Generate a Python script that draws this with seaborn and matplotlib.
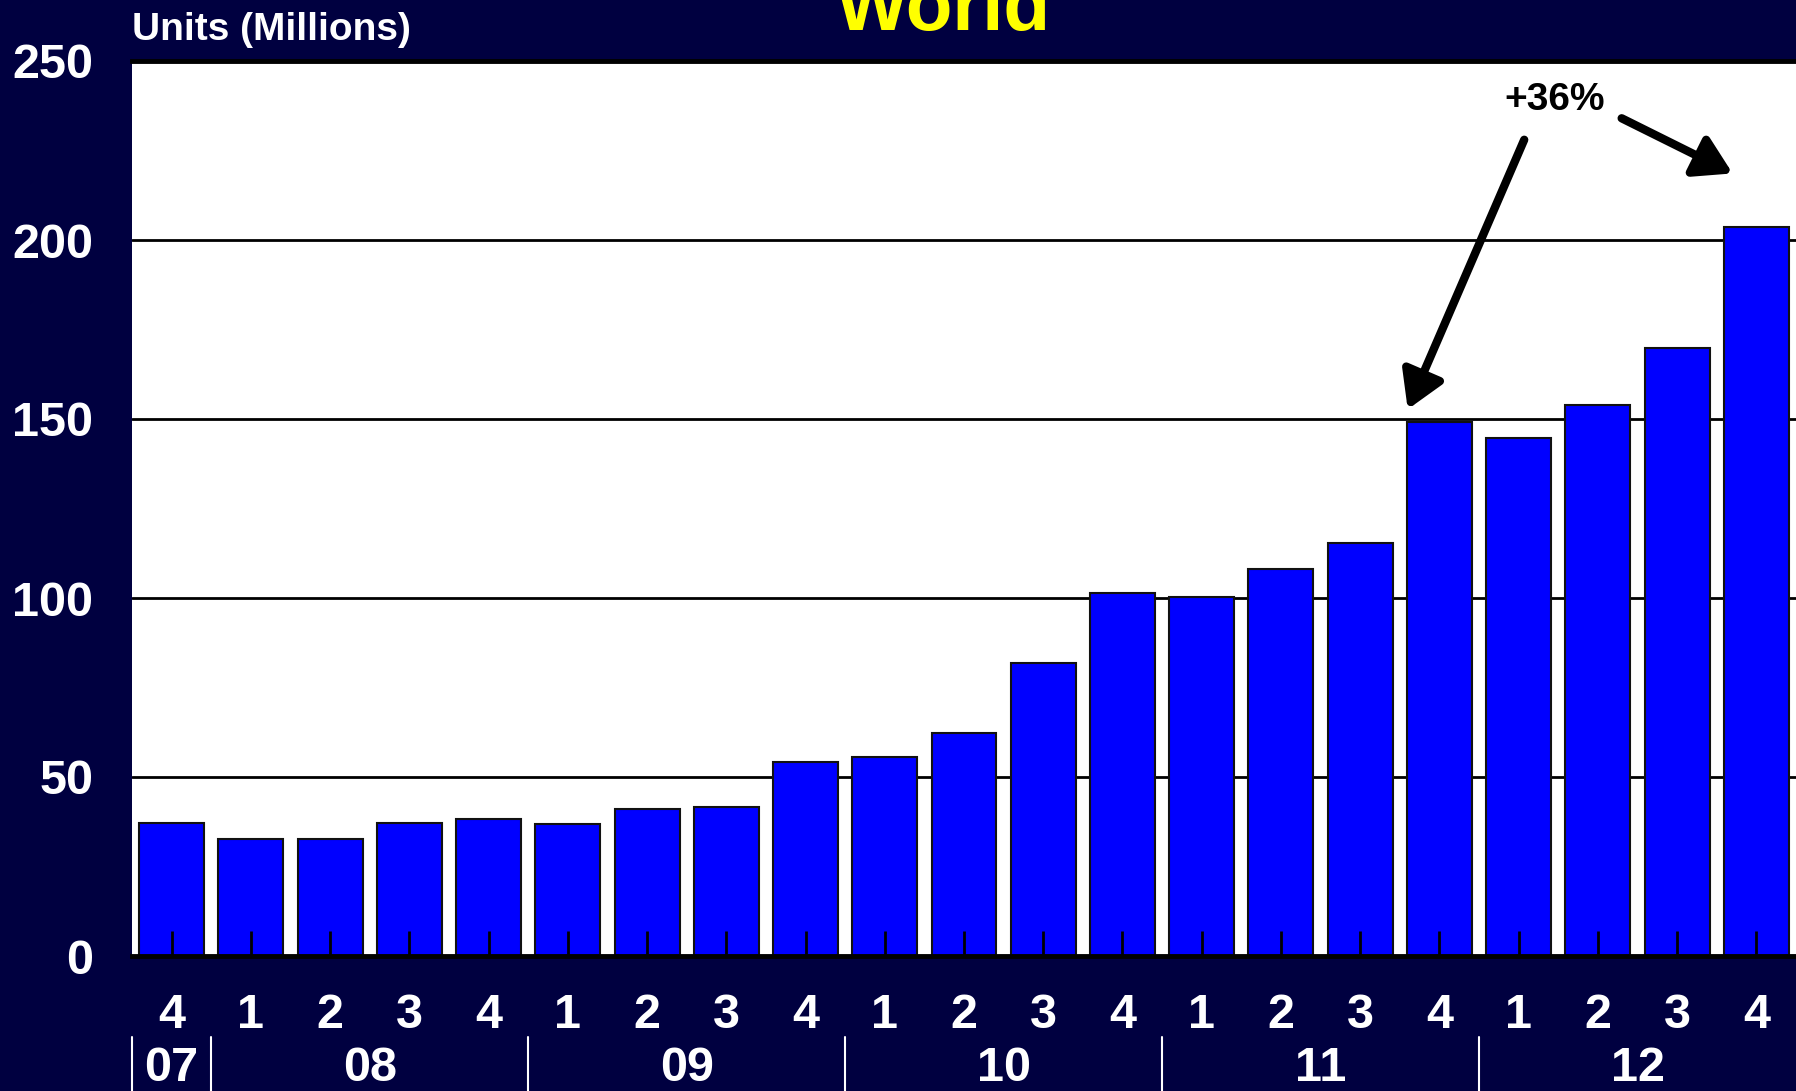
import numpy as np
import pandas as pd
import matplotlib
matplotlib.use("Agg")
import matplotlib.pyplot as plt
import seaborn as sns

# --- data ---
years = ['07', '08', '08', '08', '08', '09', '09', '09', '09', '10', '10', '10', '10',
         '11', '11', '11', '11', '12', '12', '12', '12']
quarters = ['4', '1', '2', '3', '4', '1', '2', '3', '4', '1', '2', '3', '4',
            '1', '2', '3', '4', '1', '2', '3', '4']
units = [37.1, 32.6, 32.6, 37.1, 38.4, 36.8, 41.2, 41.6, 54.3, 55.6, 62.3, 81.8,
         101.3, 100.4, 108.1, 115.4, 149.2, 144.8, 154.0, 169.7, 203.6]
yticks = [0, 50, 100, 150, 200, 250]

NAVY = '#000040'
BLUE = '#0000ff'

df = pd.DataFrame({'year': years, 'quarter': quarters, 'units': units})
df['period'] = df['year'] + 'Q' + df['quarter']

sns.set_style('white')
plt.rcParams['font.family'] = ['Liberation Sans', 'DejaVu Sans']
plt.rcParams['font.weight'] = 'bold'

fig = plt.figure(figsize=(17.96, 10.91), dpi=100, facecolor=NAVY)
ax = fig.add_axes([132 / 1796, 135 / 1091, 1 - 132 / 1796, 895 / 1091])
ax.set_facecolor('white')

# gridlines behind the bars, ticks stay on top
for t in yticks[1:-1]:
    ax.axhline(t, color='black', lw=2, zorder=0.5)

sns.barplot(data=df, x='period', y='units', color=BLUE, saturation=1,
            edgecolor='#111111', linewidth=1.5, width=0.82, ax=ax, zorder=1)

ax.set_xlim(-0.5, len(df) - 0.5)
ax.set_ylim(0, 250)
ax.set_yticks(yticks)
ax.set_yticklabels([str(t) for t in yticks], color='white', fontsize=35, fontweight='bold')
ax.tick_params(axis='y', left=False, length=0, pad=28)

ax.set_xticks(range(len(df)))
ax.set_xticklabels(df['quarter'], color='white', fontsize=35, fontweight='bold')
ax.tick_params(axis='x', bottom=True, direction='in', length=18, width=2,
               color='black', pad=27)
ax.set_axisbelow(False)
ax.set_xlabel('')
ax.set_ylabel('')

for s in ['left', 'right']:
    ax.spines[s].set_visible(False)
for s in ['top', 'bottom']:
    ax.spines[s].set_color('black')
    ax.spines[s].set_linewidth(3.5)
    ax.spines[s].set_zorder(5)

# year groups under the quarter labels
trans = ax.get_xaxis_transform()
pos = np.arange(len(df))
bounds = [-0.5]
for yr in df['year'].unique():
    idx = pos[df['year'] == yr]
    ax.text(idx.mean(), -0.126, yr, transform=trans, ha='center', va='center',
            color='white', fontsize=35, fontweight='bold')
    bounds.append(idx.max() + 0.5)
for b in bounds[:-1]:
    ax.plot([b, b], [-0.09, -0.16], transform=trans, color='white', lw=1.5, clip_on=False)

# growth annotation
i_prev, i_last = 16, 20
ax.text(17.45, 239, '+36%', ha='center', va='center', fontsize=28,
        fontweight='bold', color='black', zorder=6)
arrow = dict(arrowstyle='-|>,head_length=1.0,head_width=0.6', lw=6, color='black',
             shrinkA=0, shrinkB=0, mutation_scale=22)
ax.annotate('', xy=(i_prev - 0.4, units[i_prev] + 3.5), xytext=(17.07, 228),
            arrowprops=arrow, zorder=6)
ax.annotate('', xy=(i_last - 0.3, units[i_last] + 15), xytext=(18.3, 234),
            arrowprops=arrow, zorder=6)

fig.text(943 / 1796, 1 - 30 / 1091, 'World', ha='center', va='baseline',
         fontsize=55, color='#ffff00', fontweight='bold')
fig.text(132 / 1796, 1 - 40 / 1091, 'Units (Millions)', ha='left', va='baseline',
         fontsize=28, color='white', fontweight='bold')

fig.savefig('out.png', dpi=100, facecolor=NAVY)
